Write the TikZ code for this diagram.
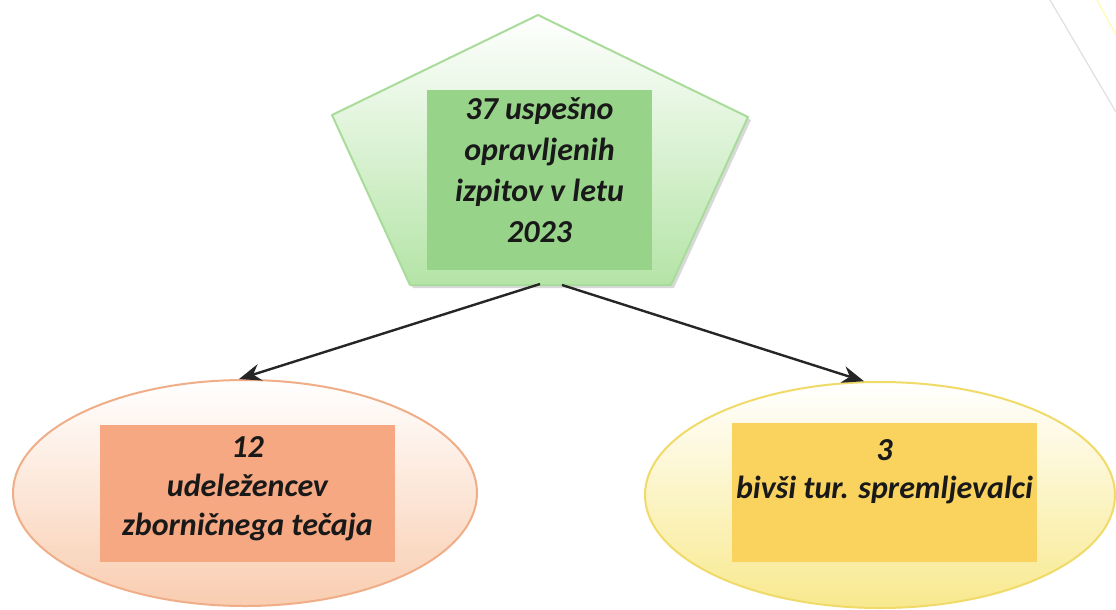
\documentclass[tikz,border=0pt]{standalone}
\usepackage{fontspec}
\setmainfont{Carlito}
\usetikzlibrary{shapes.geometric,arrows.meta,shadows}
\definecolor{gboxc}{HTML}{98D38A}
\definecolor{gedge}{HTML}{A9DC9B}
\definecolor{gfill}{HTML}{B4E4A6}
\definecolor{oboxc}{HTML}{F5A882}
\definecolor{oedge}{HTML}{F0AE88}
\definecolor{ofill}{HTML}{F9CDB0}
\definecolor{yboxc}{HTML}{F9D35E}
\definecolor{yedge}{HTML}{F0DA68}
\definecolor{yfill}{HTML}{F8E98E}
\tikzset{
  x=1pt,y=-1pt,
  lbl/.style={font=\fontsize{32}{41}\selectfont\bfseries\itshape, align=center, text=black!90, inner sep=0pt},
  boxr/.style={rectangle, draw=none, inner sep=0pt},
  oval/.style={ellipse, draw, line width=2pt, inner sep=0pt, minimum width=464pt, minimum height=226pt},
  conn/.style={line width=2.4pt, draw=black!85, -{Stealth[length=22pt,width=17pt]}},
}
\begin{document}
\begin{tikzpicture}
\useasboundingbox (0,0) rectangle (1116,610);
\fill[white] (0,0) rectangle (1116,610);
% faint corner lines
\draw[black!12, line width=1.2pt] (1050,0) -- (1116,112);
\draw[yellow!30, line width=1.2pt] (1097,0) -- (1116,35);
% pentagon
\coordinate (pt) at (538,15);
\coordinate (pr) at (748,117);
\coordinate (pbr) at (671,285);
\coordinate (pbl) at (410,285);
\coordinate (pl) at (332,115);
\fill[black!15] ([shift={(3,3)}]pt) -- ([shift={(3,3)}]pr) -- ([shift={(3,3)}]pbr) -- ([shift={(3,3)}]pbl) -- ([shift={(3,3)}]pl) -- cycle;
\shade[top color=white, middle color=white!85!gfill, bottom color=gfill, draw=gedge, line width=2pt, line join=round]
  (pt) -- (pr) -- (pbr) -- (pbl) -- (pl) -- cycle;
\node[boxr, fill=gboxc, minimum width=225pt, minimum height=180pt] (gbox) at (539.5,180) {};
\node[lbl] (gtext) at (539.5,170) {37 uspešno\\opravljenih\\izpitov v letu\\2023};
% ellipses
\node[oval, draw=oedge, top color=white, middle color=white!85!ofill, bottom color=ofill] (e1) at (245,493) {};
\node[boxr, fill=oboxc, minimum width=295pt, minimum height=137pt] (obox) at (247.5,493.5) {};
\node[lbl, font=\fontsize{32}{39}\selectfont\bfseries\itshape] (otext) at (247.5,489) {12\\udeležencev\\zborničnega tečaja};
\node[oval, draw=yedge, top color=white, middle color=white!80!yfill, bottom color=yfill, minimum width=470pt] (e2) at (880,495) {};
\node[boxr, fill=yboxc, minimum width=305pt, minimum height=139pt] (ybox) at (884.5,492.5) {};
\node[lbl, font=\fontsize{32}{38}\selectfont\bfseries\itshape] (ytext) at (884.5,472) {3\\bivši tur. spremljevalci};
% connectors
\coordinate (p1) at (540,284);
\coordinate (p2) at (562,285);
\draw[conn] (p1) -- (e1.93);
\draw[conn] (p2) -- (e2.98);
\end{tikzpicture}
\end{document}
